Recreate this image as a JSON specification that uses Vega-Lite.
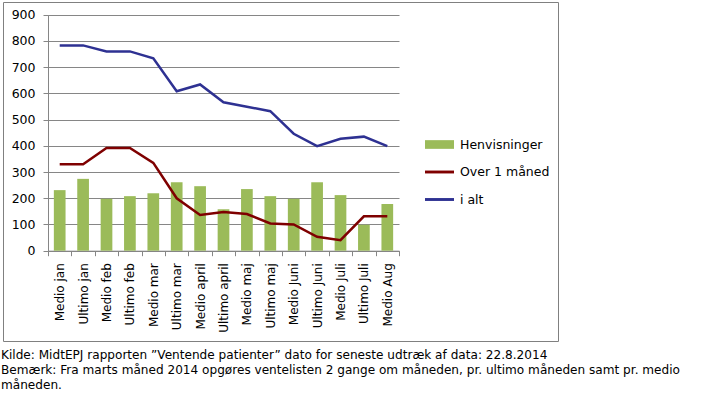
{
  "$schema": "https://vega.github.io/schema/vega-lite/v6.json",
  "autosize": {"type": "none"},
  "width": 555,
  "height": 339,
  "padding": {"left": 3, "top": 2, "right": 158, "bottom": 58},
  "background": "white",
  "config": {
    "view": {"stroke": "#808080", "strokeWidth": 1},
    "font": "DejaVu Sans"
  },
  "title": {
    "text": [
      "Kilde: MidtEPJ rapporten ”Ventende patienter” dato for seneste udtræk af data: 22.8.2014",
      "Bemærk: Fra marts måned 2014 opgøres ventelisten 2 gange om måneden, pr. ultimo måneden samt pr. medio",
      "måneden."
    ],
    "orient": "bottom",
    "anchor": "start",
    "frame": "group",
    "font": "DejaVu Sans",
    "fontSize": 12.1,
    "fontWeight": "normal",
    "color": "#000000",
    "lineHeight": 15,
    "offset": 8,
    "dx": -2
  },
  "data": {
    "values": [
      {"t": "Medio jan", "serie": "Henvisninger", "antal": 231},
      {"t": "Medio jan", "serie": "Over 1 måned", "antal": 330},
      {"t": "Medio jan", "serie": "i alt", "antal": 783},
      {"t": "Ultimo jan", "serie": "Henvisninger", "antal": 274},
      {"t": "Ultimo jan", "serie": "Over 1 måned", "antal": 330},
      {"t": "Ultimo jan", "serie": "i alt", "antal": 783},
      {"t": "Medio feb", "serie": "Henvisninger", "antal": 198},
      {"t": "Medio feb", "serie": "Over 1 måned", "antal": 392},
      {"t": "Medio feb", "serie": "i alt", "antal": 760},
      {"t": "Ultimo feb", "serie": "Henvisninger", "antal": 208},
      {"t": "Ultimo feb", "serie": "Over 1 måned", "antal": 392},
      {"t": "Ultimo feb", "serie": "i alt", "antal": 760},
      {"t": "Medio mar", "serie": "Henvisninger", "antal": 219},
      {"t": "Medio mar", "serie": "Over 1 måned", "antal": 335},
      {"t": "Medio mar", "serie": "i alt", "antal": 734},
      {"t": "Ultimo mar", "serie": "Henvisninger", "antal": 261},
      {"t": "Ultimo mar", "serie": "Over 1 måned", "antal": 200},
      {"t": "Ultimo mar", "serie": "i alt", "antal": 608},
      {"t": "Medio april", "serie": "Henvisninger", "antal": 246},
      {"t": "Medio april", "serie": "Over 1 måned", "antal": 136},
      {"t": "Medio april", "serie": "i alt", "antal": 634},
      {"t": "Ultimo april", "serie": "Henvisninger", "antal": 158},
      {"t": "Ultimo april", "serie": "Over 1 måned", "antal": 148},
      {"t": "Ultimo april", "serie": "i alt", "antal": 566},
      {"t": "Medio maj", "serie": "Henvisninger", "antal": 235},
      {"t": "Medio maj", "serie": "Over 1 måned", "antal": 140},
      {"t": "Medio maj", "serie": "i alt", "antal": 549},
      {"t": "Ultimo maj", "serie": "Henvisninger", "antal": 208},
      {"t": "Ultimo maj", "serie": "Over 1 måned", "antal": 104},
      {"t": "Ultimo maj", "serie": "i alt", "antal": 532},
      {"t": "Medio Juni", "serie": "Henvisninger", "antal": 198},
      {"t": "Medio Juni", "serie": "Over 1 måned", "antal": 100},
      {"t": "Medio Juni", "serie": "i alt", "antal": 446},
      {"t": "Ultimo Juni", "serie": "Henvisninger", "antal": 261},
      {"t": "Ultimo Juni", "serie": "Over 1 måned", "antal": 53},
      {"t": "Ultimo Juni", "serie": "i alt", "antal": 399},
      {"t": "Medio Juli", "serie": "Henvisninger", "antal": 212},
      {"t": "Medio Juli", "serie": "Over 1 måned", "antal": 40},
      {"t": "Medio Juli", "serie": "i alt", "antal": 427},
      {"t": "Ultimo Juli", "serie": "Henvisninger", "antal": 99},
      {"t": "Ultimo Juli", "serie": "Over 1 måned", "antal": 131},
      {"t": "Ultimo Juli", "serie": "i alt", "antal": 435},
      {"t": "Medio Aug", "serie": "Henvisninger", "antal": 178},
      {"t": "Medio Aug", "serie": "Over 1 måned", "antal": 131},
      {"t": "Medio Aug", "serie": "i alt", "antal": 399}
    ]
  },
  "encoding": {
    "x": {
      "field": "t",
      "type": "nominal",
      "sort": null,
      "scale": {"range": [45, 396], "paddingInner": 0, "paddingOuter": 0},
      "axis": {
        "title": null,
        "offset": -90.3,
        "labelAngle": -90,
        "labelFont": "DejaVu Sans",
        "labelFontSize": 12,
        "labelColor": "#000000",
        "labelPadding": 7,
        "tickBand": "extent",
        "tickSize": 5,
        "tickColor": "#868686",
        "domainColor": "#868686",
        "grid": false
      }
    },
    "y": {
      "field": "antal",
      "type": "quantitative",
      "scale": {"domain": [0, 900], "range": [248.7, 12.7], "nice": false},
      "axis": {
        "title": null,
        "offset": -45,
        "values": [0, 100, 200, 300, 400, 500, 600, 700, 800, 900],
        "labelFont": "DejaVu Sans",
        "labelFontSize": 12.5,
        "labelColor": "#000000",
        "labelPadding": 8,
        "tickSize": 5,
        "tickColor": "#868686",
        "domainColor": "#868686",
        "gridColor": "#868686",
        "gridOpacity": 1,
        "gridWidth": 1
      }
    },
    "color": {
      "field": "serie",
      "type": "nominal",
      "scale": {
        "domain": ["Henvisninger", "Over 1 måned", "i alt"],
        "range": ["#9BBB59", "#7F0000", "#2E3192"]
      },
      "legend": {
        "title": null,
        "orient": "none",
        "legendX": 422,
        "legendY": 128,
        "padding": 0,
        "symbolSize": 841,
        "symbolType": "M-1,-0.1H1V0.1H-1Z",
        "labelFont": "DejaVu Sans",
        "labelFontSize": 12.5,
        "labelColor": "#000000",
        "labelOffset": 6,
        "rowPadding": 6.5,
        "encode": {
          "symbols": {
            "update": {
              "shape": {"signal": "datum.value === 'Henvisninger' ? 'M-1,-0.3H1V0.3H-1Z' : 'M-1,-0.1H1V0.1H-1Z'"},
              "fill": {"signal": "scale('color', datum.value)"},
              "stroke": {"value": "transparent"},
              "strokeWidth": {"value": 0},
              "opacity": {"value": 1},
              "fillOpacity": {"value": 1}
            }
          }
        }
      }
    }
  },
  "layer": [
    {
      "transform": [{"filter": "datum.serie === 'Henvisninger'"}],
      "mark": {"type": "bar", "width": {"band": 0.5}}
    },
    {
      "transform": [{"filter": "datum.serie !== 'Henvisninger'"}],
      "mark": {"type": "line", "strokeWidth": 2.5}
    }
  ]
}
